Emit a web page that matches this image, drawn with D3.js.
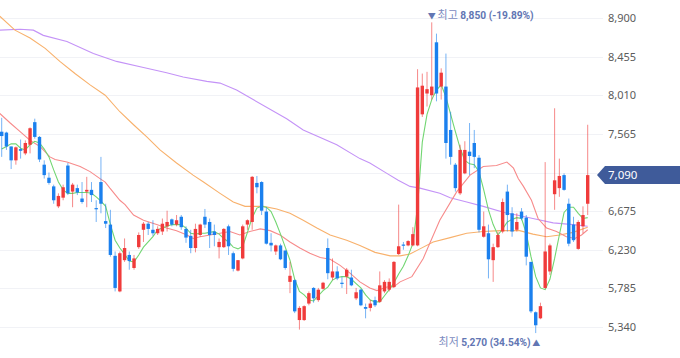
<!DOCTYPE html>
<html><head><meta charset="utf-8">
<script src="https://cdn.jsdelivr.net/npm/d3@7"></script>
<style>
html,body{margin:0;padding:0;background:#fff;}
svg{display:block;}
</style></head>
<body>
<svg id="chart" width="680" height="358"></svg>
<script>
const yTicks = [8900, 8455, 8010, 7565, 7120, 6675, 6230, 5785, 5340];
const lastPrice = 7090;
const highPrice = 8850, highIdx = 91, highLabel = "8,850 (-19.89%)";
const lowPrice = 5270, lowIdx = 113, lowLabel = "5,270 (34.54%)";

const open = [7590,7580,7420,7260,7390,7340,7440,7700,7530,7210,
7060,6960,6730,6830,7200,6900,6940,6820,6900,6920,
6710,7010,6560,6520,6160,5750,6110,6170,6020,6260,
6460,6530,6460,6420,6440,6500,6580,6520,6610,6470,
6390,6250,6400,6610,6550,6440,6260,6260,6500,6190,
5990,6130,6520,6550,7000,7010,6670,6310,6210,6280,
6220,5860,5880,5420,5420,5610,5790,5650,5780,6250,
5910,5980,5850,5920,5910,5670,5770,5570,5560,5650,
5630,5750,5770,5800,6180,6290,6280,6280,6280,7790,
8030,8010,8620,8110,8110,7610,7210,6880,7110,7360,
7460,7290,6380,6420,6110,6260,6440,6900,6650,6460,
6670,6600,6090,5510,5440,5790,5980,6870,6940,7090,
6760,6520,6240,6500,6760];
const high = [7750,7590,7420,7420,7500,7490,7640,7740,7540,7260,
7120,6980,6880,6980,7230,7000,6980,7010,7070,7010,
6800,7300,6760,6690,6210,6210,6360,6210,6170,6430,
6550,6550,6570,6500,6590,6680,6590,6630,6630,6500,
6460,6530,6530,6700,6590,6520,6360,6480,6520,6210,
6110,6520,6580,7080,7080,7020,6720,6420,6290,6300,
6230,6090,5890,5580,5590,5750,5800,5790,5860,6360,
6130,6040,5920,6020,6000,5790,5780,5610,5650,5690,
5980,5880,5900,6100,6750,6320,6340,6490,8310,8260,
8280,8850,8720,8320,8490,7820,7230,7440,7480,7690,
7610,7320,6670,6520,6300,6440,6820,6980,6720,6650,
6710,6630,6090,5520,5620,7240,6300,7860,7280,7110,
6820,6610,6570,6730,7670];
const low = [7300,7380,7160,7210,7280,7320,7340,7510,7240,7050,
6980,6760,6710,6800,6860,6720,6860,6760,6720,6780,
6550,6650,6480,6150,5750,5740,6090,6000,6000,6240,
6320,6400,6390,6400,6400,6440,6500,6500,6460,6310,
6190,6200,6380,6480,6250,6270,6130,6250,6170,5980,
5980,6120,6460,6460,6880,6630,6290,6210,6170,6110,
6000,5730,5500,5310,5410,5590,5620,5630,5770,5890,
5880,5880,5790,5720,5810,5650,5580,5440,5520,5570,
5620,5730,5750,5790,6170,6230,6270,6270,6270,7760,
7880,7960,7940,7960,7280,7210,6900,6860,7100,7090,
7170,6430,6370,5900,5860,6250,6420,6440,6380,6440,
6570,6050,5500,5270,5430,5780,5940,6690,6840,6910,
6270,6320,6230,6420,6630];
const close = [7540,7420,7260,7410,7370,7460,7630,7530,7270,7090,
7000,6800,6850,6950,6880,6980,6890,6780,6920,6860,
6700,6760,6530,6170,5790,6190,6250,6100,6130,6400,
6530,6470,6420,6470,6530,6550,6520,6570,6490,6370,
6250,6470,6520,6520,6400,6400,6320,6470,6270,6010,
6110,6500,6570,7070,6950,6680,6300,6280,6280,6120,
6020,5930,5520,5560,5580,5730,5670,5770,5850,5960,
5980,5900,5840,6000,5820,5740,5590,5550,5610,5590,
5820,5860,5860,6090,6270,6280,6330,6410,8100,8120,
8080,8110,8030,8270,7460,7300,6940,7380,7380,7310,
7300,6460,6500,6120,6260,6400,6780,6630,6440,6550,
6590,6150,5520,5360,5580,6210,6280,7030,7080,6920,
6300,6340,6550,6630,7090];

// 5-day moving average, read per candle
const ma5 = [7390,7420,7450,7450,7400,7380,7440,7480,7460,7390,
7300,7150,7010,6920,6880,6880,6890,6890,6890,6880,
6840,6790,6730,6520,6340,6250,6180,6100,6090,6170,
6260,6320,6380,6460,6480,6500,6520,6520,6520,6480,
6420,6410,6420,6420,6430,6440,6410,6360,6320,6260,
6240,6270,6430,6600,6710,6730,6720,6670,6550,6410,
6260,6110,5890,5750,5710,5650,5640,5700,5760,5800,
5880,5910,5920,5920,5890,5840,5790,5710,5650,5630,
5630,5700,5770,5850,5950,6040,6160,6300,6730,7470,
7790,7960,8070,8130,7990,7790,7590,7400,7260,7220,
7210,7130,6920,6690,6520,6400,6470,6550,6580,6600,
6590,6420,6150,5920,5790,5770,5890,6130,6400,6660,
6720,6720,6650,6590,6600];
// longer averages, read as [candle index, value] points
const ma20 = [[-0.4,7800],[1.8,7690],[3.9,7590],[6,7490],[8.1,7420],[10.2,7300],[11.3,7270],[13.8,7240],[16.6,7190],[18.7,7130],[20.8,7050],[21.9,7010],[22.9,6940],[25,6800],[26.1,6750],[27.9,6630],[30,6570],[32.8,6520],[34.9,6480],[37,6450],[39.2,6400],[40.5,6360],[42,6380],[44.1,6400],[46.2,6420],[48.3,6440],[50.4,6400],[52.5,6440],[54.7,6470],[56.8,6450],[58.9,6400],[61,6320],[63.1,6250],[65.2,6190],[67.4,6140],[69.5,6120],[71.6,6050],[73.7,5960],[75.8,5860],[77.9,5790],[79.4,5760],[81.5,5800],[82.9,5800],[84.3,5860],[86.8,5920],[89.2,6130],[92.7,6570],[96.3,6900],[99.1,7090],[101.9,7190],[104.7,7200],[106.9,7240],[108.3,7170],[109.3,7050],[110.4,6960],[112.1,6800],[113.5,6590],[115.3,6480],[117.4,6440],[119.5,6380],[121.3,6360],[122.7,6400],[124,6460]];
const ma60 = [[-0.4,8920],[2.8,8760],[6,8670],[9.2,8550],[12.3,8400],[15.5,8260],[18.7,8130],[21.9,8010],[25,7820],[27.9,7670],[30.7,7530],[33.5,7380],[37,7230],[40.5,7090],[42.7,7010],[46.2,6880],[49,6780],[51.5,6730],[55.4,6730],[58.2,6700],[61,6650],[63.8,6570],[66.7,6480],[69.5,6400],[73,6340],[75.8,6280],[79,6200],[82.2,6160],[84.3,6160],[86.4,6180],[88.5,6240],[91.3,6320],[94.9,6370],[98.4,6420],[101.9,6440],[105.4,6450],[109.6,6450],[112.4,6410],[115.3,6380],[118.1,6400],[120.9,6430],[124,6490]];
const ma120 = [[-0.4,8760],[3.9,8770],[6.7,8760],[8.8,8700],[13.8,8630],[19.4,8490],[24.3,8400],[30,8330],[34.9,8270],[38.4,8220],[43.4,8170],[46.2,8150],[49.7,8070],[53.2,7960],[60.3,7740],[63.8,7610],[70.9,7440],[75.8,7280],[77.9,7230],[81.5,7110],[83.9,7030],[86.4,6960],[88.5,6940],[92.7,6880],[94.9,6830],[98.4,6780],[101.9,6730],[106.9,6650],[109,6630],[112.4,6590],[116.7,6540],[120.9,6520],[124,6500]];

const W = 680, H = 358;
const plotRight = 603;
const svg = d3.select("#chart");

const x = d3.scaleLinear().domain([0, open.length - 1]).range([1.7, 587.7]);
const y = d3.scaleLinear().domain([5340, 8900]).range([327, 18]);

// grid
svg.append("g").selectAll("line").data(yTicks).join("line")
  .attr("x1", 0).attr("x2", plotRight)
  .attr("y1", d => Math.round(y(d)) + 0.5).attr("y2", d => Math.round(y(d)) + 0.5)
  .attr("stroke", "#f1f2f6").attr("stroke-width", 1);

// axis labels (the tick hidden behind the last-price tag is not labelled)
const labelTicks = yTicks.filter(t => Math.abs(y(t) - y(lastPrice)) > 12);
const axis = d3.axisRight(y).tickValues(labelTicks).tickSize(0).tickPadding(8)
  .tickFormat(d3.format(","));
const ag = svg.append("g").attr("transform", `translate(${600},0)`).call(axis);
ag.select(".domain").remove();
ag.selectAll("text").attr("font-family", "'Noto Sans', sans-serif")
  .attr("font-size", 11).attr("fill", "#5c5c5c");

const defs = svg.append("defs");
defs.append("clipPath").attr("id", "plotclip").append("rect")
  .attr("x", 0).attr("y", 0).attr("width", plotRight).attr("height", H);
const plot = svg.append("g").attr("clip-path", "url(#plotclip)");

// moving averages
const lineIdx = d3.line().x(d => x(d[0])).y(d => y(d[1]));
const maDefs = [
  {data: ma120, color: "#c493f7"},
  {data: ma60, color: "#f8b16c"},
  {data: ma20, color: "#f78b8b"},
  {data: ma5.map((v, i) => [i, v]), color: "#72d672"}
];
maDefs.forEach(m => {
  plot.append("path").datum(m.data).attr("d", lineIdx)
    .attr("fill", "none").attr("stroke", m.color).attr("stroke-width", 1.1);
});

// candles
const UP = "#f03b3b", DOWN = "#1b80ee";
const candles = open.map((o, i) => ({i, o, h: high[i], l: low[i], c: close[i]}));
const cg = plot.append("g");
const bw = 3.4;
cg.selectAll("line.wick").data(candles).join("line").attr("class", "wick")
  .attr("x1", d => x(d.i)).attr("x2", d => x(d.i))
  .attr("y1", d => y(d.h)).attr("y2", d => y(d.l))
  .attr("stroke", d => d.c >= d.o ? UP : DOWN).attr("stroke-opacity", 0.6).attr("stroke-width", 1);
cg.selectAll("rect.body").data(candles).join("rect").attr("class", "body")
  .attr("x", d => x(d.i) - bw / 2).attr("width", bw)
  .attr("y", d => y(Math.max(d.o, d.c)))
  .attr("height", d => Math.max(1.2, Math.abs(y(d.o) - y(d.c))))
  .attr("fill", d => d.c >= d.o ? UP : DOWN);

// high / low annotations
const annColor = "#6276b3";
const fontK = "'Noto Sans CJK KR', 'Noto Sans', sans-serif";
const fontN = "Roboto, 'Noto Sans', sans-serif";
const ht = svg.append("text").attr("x", x(highIdx) - 4).attr("y", y(highPrice) - 3)
  .attr("font-family", fontK).attr("font-size", 11);
ht.append("tspan").attr("fill", annColor).attr("font-size", 8).text("▼ ");
ht.append("tspan").attr("fill", "#7d8cbf").text("최고 ");
ht.append("tspan").attr("fill", annColor).attr("font-family", fontN).attr("font-size", 10.2)
  .attr("font-weight", "bold").text(highLabel);

const lowY = y(lowPrice) + 13;
svg.append("text").attr("x", x(lowIdx) + 0.5).attr("y", lowY).attr("text-anchor", "middle")
  .attr("font-family", fontK).attr("font-size", 8).attr("fill", annColor).text("▲");
const lt = svg.append("text").attr("x", x(lowIdx) - 5).attr("y", lowY)
  .attr("text-anchor", "end")
  .attr("font-family", fontK).attr("font-size", 11);
lt.append("tspan").attr("fill", "#7d8cbf").text("최저 ");
lt.append("tspan").attr("fill", annColor).attr("font-family", fontN).attr("font-size", 10.2)
  .attr("font-weight", "bold").text(lowLabel);

// last price tag
const ty = y(lastPrice);
svg.append("path")
  .attr("d", `M597,${ty} L605,${ty - 9} L680,${ty - 9} L680,${ty + 9} L605,${ty + 9} Z`)
  .attr("fill", "#3f5b9a");
svg.append("text").attr("x", 608).attr("y", ty + 4)
  .attr("font-family", "'Noto Sans', sans-serif").attr("font-size", 11.5)
  .attr("fill", "#fff").text(d3.format(",")(lastPrice));
</script>
</body></html>
